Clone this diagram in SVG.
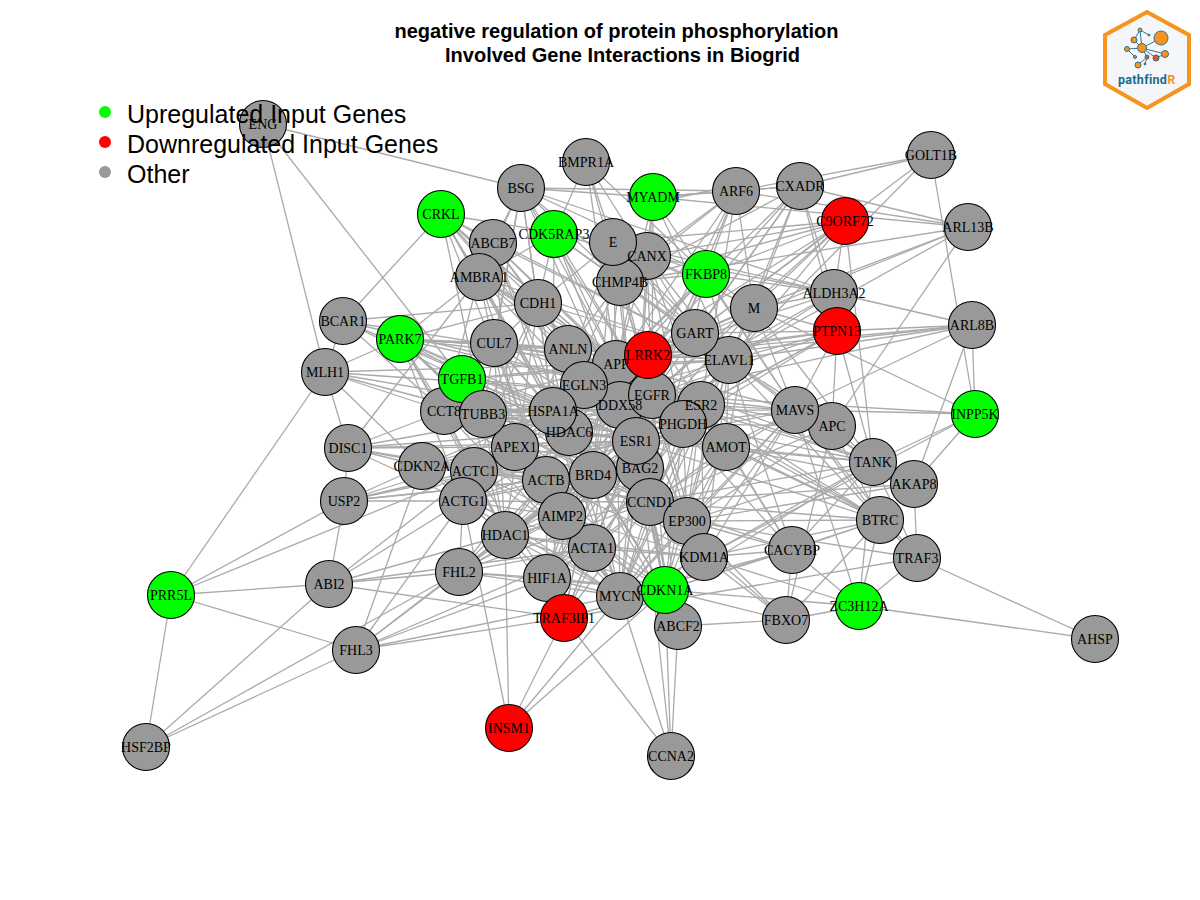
<svg xmlns="http://www.w3.org/2000/svg" width="1200" height="900" viewBox="0 0 1200 900">
<style>
#edges line{stroke:#aaaaaa;stroke-width:1.3;fill:none}
.n{fill:#000}
.n.t{fill:none}
.n circle{r:23.5px;stroke:#000;stroke-width:1.1;fill:#999999}
.n.up circle{fill:#00ff00}
.n.dn circle{fill:#ff0000}
.n text{font-family:"Liberation Serif","Times New Roman",serif;font-size:14px;text-anchor:middle}
.lab{fill:#000}
.title{font-family:"Liberation Sans",Arial,sans-serif;font-size:20.05px;font-weight:700;text-anchor:middle;fill:#000}
.leg{font-family:"Liberation Sans",Arial,sans-serif;font-size:25px;fill:#000}
#logo circle{stroke:#1b6a8c;stroke-width:0.9;fill:#f7941d}
#logo line{stroke:#1b6a8c;stroke-width:0.9}
</style>
<rect width="1200" height="900" fill="#ffffff"/>
<g id="edges">
<line x1="521" y1="188" x2="616" y2="364"/><line x1="521" y1="188" x2="652" y2="395"/><line x1="521" y1="188" x2="636" y2="441"/><line x1="521" y1="188" x2="553" y2="411"/><line x1="521" y1="188" x2="729" y2="360"/><line x1="521" y1="188" x2="653" y2="197"/><line x1="521" y1="188" x2="736" y2="191"/><line x1="521" y1="188" x2="479" y2="277"/><line x1="521" y1="188" x2="493" y2="243"/><line x1="521" y1="188" x2="620" y2="282"/><line x1="521" y1="188" x2="494" y2="343"/><line x1="521" y1="188" x2="538" y2="303"/><line x1="521" y1="188" x2="706" y2="274"/><line x1="521" y1="188" x2="834" y2="293"/><line x1="521" y1="188" x2="483" y2="414"/><line x1="521" y1="188" x2="263" y2="124"/>
<line x1="586" y1="162" x2="554" y2="234"/><line x1="586" y1="162" x2="613" y2="242"/><line x1="586" y1="162" x2="616" y2="364"/><line x1="586" y1="162" x2="652" y2="395"/><line x1="586" y1="162" x2="706" y2="274"/><line x1="586" y1="162" x2="695" y2="333"/>
<line x1="653" y1="197" x2="736" y2="191"/><line x1="653" y1="203" x2="736" y2="185"/><line x1="653" y1="197" x2="800" y2="186"/><line x1="653" y1="197" x2="616" y2="364"/><line x1="653" y1="197" x2="652" y2="395"/><line x1="653" y1="197" x2="636" y2="441"/><line x1="653" y1="197" x2="795" y2="410"/><line x1="653" y1="197" x2="647" y2="256"/><line x1="653" y1="197" x2="729" y2="360"/><line x1="653" y1="197" x2="968" y2="227"/>
<line x1="736" y1="191" x2="800" y2="186"/><line x1="736" y1="191" x2="931" y2="155"/><line x1="736" y1="191" x2="968" y2="227"/><line x1="736" y1="191" x2="754" y2="308"/><line x1="736" y1="191" x2="620" y2="282"/><line x1="736" y1="191" x2="616" y2="364"/><line x1="736" y1="191" x2="652" y2="395"/><line x1="736" y1="191" x2="593" y2="475"/><line x1="736" y1="191" x2="701" y2="405"/><line x1="736" y1="191" x2="647" y2="256"/><line x1="736" y1="191" x2="706" y2="274"/>
<line x1="800" y1="186" x2="931" y2="155"/><line x1="800" y1="186" x2="968" y2="227"/><line x1="800" y1="186" x2="834" y2="293"/><line x1="800" y1="186" x2="837" y2="331"/><line x1="800" y1="186" x2="754" y2="308"/><line x1="800" y1="186" x2="695" y2="333"/><line x1="800" y1="186" x2="648" y2="355"/><line x1="800" y1="186" x2="616" y2="364"/><line x1="800" y1="186" x2="729" y2="360"/><line x1="800" y1="186" x2="620" y2="282"/><line x1="800" y1="186" x2="652" y2="395"/>
<line x1="931" y1="155" x2="975" y2="414"/><line x1="931" y1="155" x2="729" y2="360"/><line x1="931" y1="155" x2="695" y2="333"/>
<line x1="845" y1="221" x2="834" y2="293"/><line x1="845" y1="221" x2="873" y2="462"/><line x1="845" y1="221" x2="754" y2="308"/><line x1="845" y1="221" x2="647" y2="256"/><line x1="845" y1="221" x2="613" y2="242"/><line x1="845" y1="221" x2="706" y2="274"/><line x1="845" y1="221" x2="695" y2="333"/><line x1="845" y1="221" x2="729" y2="360"/><line x1="845" y1="221" x2="616" y2="364"/><line x1="845" y1="221" x2="652" y2="395"/><line x1="845" y1="221" x2="620" y2="282"/>
<line x1="968" y1="227" x2="832" y2="426"/><line x1="968" y1="227" x2="729" y2="360"/><line x1="968" y1="227" x2="620" y2="282"/><line x1="968" y1="227" x2="648" y2="355"/><line x1="968" y1="227" x2="754" y2="308"/>
<line x1="972" y1="325" x2="975" y2="414"/><line x1="972" y1="325" x2="914" y2="484"/><line x1="972" y1="325" x2="837" y2="331"/><line x1="972" y1="325" x2="834" y2="293"/><line x1="972" y1="325" x2="729" y2="360"/><line x1="972" y1="325" x2="795" y2="410"/><line x1="972" y1="325" x2="652" y2="395"/><line x1="972" y1="325" x2="616" y2="364"/><line x1="972" y1="325" x2="648" y2="355"/>
<line x1="834" y1="293" x2="754" y2="308"/><line x1="834" y1="293" x2="729" y2="360"/><line x1="834" y1="293" x2="706" y2="274"/><line x1="834" y1="293" x2="647" y2="256"/><line x1="834" y1="293" x2="613" y2="242"/><line x1="834" y1="293" x2="616" y2="364"/><line x1="834" y1="293" x2="652" y2="395"/>
<line x1="837" y1="331" x2="754" y2="308"/><line x1="837" y1="331" x2="729" y2="360"/><line x1="837" y1="331" x2="648" y2="355"/><line x1="837" y1="331" x2="695" y2="333"/><line x1="837" y1="331" x2="616" y2="364"/><line x1="837" y1="331" x2="652" y2="395"/><line x1="837" y1="331" x2="701" y2="405"/><line x1="837" y1="331" x2="636" y2="441"/><line x1="837" y1="331" x2="795" y2="410"/><line x1="837" y1="331" x2="832" y2="426"/><line x1="837" y1="331" x2="873" y2="462"/><line x1="837" y1="331" x2="683" y2="424"/>
<line x1="754" y1="308" x2="975" y2="414"/><line x1="754" y1="308" x2="613" y2="242"/><line x1="754" y1="308" x2="647" y2="256"/><line x1="754" y1="308" x2="706" y2="274"/><line x1="754" y1="308" x2="695" y2="333"/><line x1="754" y1="308" x2="648" y2="355"/><line x1="754" y1="308" x2="616" y2="364"/><line x1="754" y1="308" x2="652" y2="395"/><line x1="754" y1="308" x2="636" y2="441"/><line x1="754" y1="308" x2="729" y2="360"/><line x1="754" y1="308" x2="726" y2="447"/><line x1="754" y1="308" x2="795" y2="410"/><line x1="754" y1="308" x2="873" y2="462"/>
<line x1="706" y1="274" x2="616" y2="364"/><line x1="706" y1="274" x2="652" y2="395"/><line x1="706" y1="274" x2="636" y2="441"/><line x1="706" y1="274" x2="569" y2="432"/><line x1="706" y1="274" x2="593" y2="475"/><line x1="706" y1="274" x2="795" y2="410"/><line x1="706" y1="274" x2="729" y2="360"/><line x1="706" y1="274" x2="620" y2="282"/><line x1="706" y1="274" x2="650" y2="502"/><line x1="706" y1="274" x2="613" y2="242"/>
<line x1="613" y1="242" x2="616" y2="364"/><line x1="613" y1="242" x2="652" y2="395"/><line x1="613" y1="242" x2="636" y2="441"/><line x1="613" y1="242" x2="553" y2="411"/><line x1="613" y1="242" x2="695" y2="333"/><line x1="613" y1="242" x2="729" y2="360"/><line x1="613" y1="242" x2="538" y2="303"/><line x1="613" y1="242" x2="593" y2="475"/><line x1="613" y1="242" x2="441" y2="214"/>
<line x1="647" y1="256" x2="616" y2="364"/><line x1="647" y1="256" x2="652" y2="395"/><line x1="647" y1="256" x2="636" y2="441"/><line x1="647" y1="256" x2="729" y2="360"/><line x1="647" y1="256" x2="683" y2="424"/><line x1="647" y1="256" x2="701" y2="405"/><line x1="647" y1="256" x2="554" y2="234"/>
<line x1="620" y1="282" x2="652" y2="395"/><line x1="620" y1="282" x2="636" y2="441"/><line x1="620" y1="282" x2="553" y2="411"/><line x1="620" y1="282" x2="568" y2="349"/><line x1="620" y1="282" x2="593" y2="475"/><line x1="620" y1="282" x2="729" y2="360"/><line x1="620" y1="282" x2="701" y2="405"/>
<line x1="554" y1="234" x2="616" y2="364"/><line x1="554" y1="234" x2="652" y2="395"/><line x1="554" y1="234" x2="636" y2="441"/><line x1="554" y1="234" x2="553" y2="411"/><line x1="554" y1="234" x2="479" y2="277"/><line x1="554" y1="234" x2="695" y2="333"/><line x1="554" y1="234" x2="729" y2="360"/><line x1="554" y1="234" x2="538" y2="303"/>
<line x1="441" y1="214" x2="343" y2="321"/><line x1="441" y1="214" x2="493" y2="243"/><line x1="441" y1="214" x2="479" y2="277"/><line x1="441" y1="214" x2="538" y2="303"/><line x1="441" y1="214" x2="616" y2="364"/><line x1="441" y1="214" x2="568" y2="349"/><line x1="441" y1="214" x2="652" y2="395"/><line x1="441" y1="214" x2="553" y2="411"/><line x1="441" y1="214" x2="636" y2="441"/><line x1="441" y1="214" x2="569" y2="432"/><line x1="441" y1="214" x2="546" y2="480"/><line x1="441" y1="214" x2="483" y2="414"/><line x1="441" y1="214" x2="729" y2="360"/>
<line x1="493" y1="243" x2="616" y2="364"/><line x1="493" y1="243" x2="652" y2="395"/><line x1="493" y1="243" x2="636" y2="441"/><line x1="493" y1="243" x2="553" y2="411"/><line x1="493" y1="243" x2="569" y2="432"/><line x1="493" y1="243" x2="729" y2="360"/><line x1="493" y1="243" x2="515" y2="447"/><line x1="493" y1="243" x2="538" y2="303"/>
<line x1="479" y1="277" x2="400" y2="339"/><line x1="479" y1="277" x2="616" y2="364"/><line x1="479" y1="277" x2="652" y2="395"/><line x1="479" y1="277" x2="636" y2="441"/><line x1="479" y1="277" x2="553" y2="411"/><line x1="479" y1="277" x2="569" y2="432"/><line x1="479" y1="277" x2="546" y2="480"/><line x1="479" y1="277" x2="729" y2="360"/><line x1="479" y1="277" x2="348" y2="448"/><line x1="479" y1="277" x2="444" y2="411"/><line x1="479" y1="277" x2="515" y2="447"/><line x1="479" y1="277" x2="568" y2="349"/><line x1="479" y1="277" x2="701" y2="405"/>
<line x1="538" y1="303" x2="616" y2="364"/><line x1="538" y1="303" x2="652" y2="395"/><line x1="538" y1="303" x2="636" y2="441"/><line x1="538" y1="303" x2="553" y2="411"/><line x1="538" y1="303" x2="569" y2="432"/><line x1="538" y1="303" x2="462" y2="379"/><line x1="538" y1="303" x2="483" y2="414"/><line x1="538" y1="303" x2="729" y2="360"/><line x1="538" y1="303" x2="400" y2="339"/><line x1="538" y1="303" x2="463" y2="501"/><line x1="538" y1="303" x2="505" y2="535"/><line x1="538" y1="303" x2="343" y2="321"/>
<line x1="343" y1="321" x2="325" y2="372"/><line x1="343" y1="321" x2="616" y2="364"/><line x1="343" y1="321" x2="652" y2="395"/><line x1="343" y1="321" x2="553" y2="411"/><line x1="343" y1="321" x2="462" y2="379"/><line x1="343" y1="321" x2="444" y2="411"/><line x1="343" y1="321" x2="636" y2="441"/>
<line x1="400" y1="339" x2="325" y2="372"/><line x1="400" y1="339" x2="616" y2="364"/><line x1="400" y1="339" x2="648" y2="355"/><line x1="400" y1="339" x2="652" y2="395"/><line x1="400" y1="339" x2="553" y2="411"/><line x1="400" y1="339" x2="569" y2="432"/><line x1="400" y1="339" x2="636" y2="441"/><line x1="400" y1="339" x2="546" y2="480"/><line x1="400" y1="339" x2="463" y2="501"/><line x1="400" y1="339" x2="729" y2="360"/><line x1="400" y1="339" x2="494" y2="343"/><line x1="400" y1="339" x2="568" y2="349"/><line x1="400" y1="339" x2="505" y2="535"/><line x1="400" y1="339" x2="483" y2="414"/><line x1="400" y1="339" x2="444" y2="411"/><line x1="400" y1="339" x2="515" y2="447"/><line x1="400" y1="339" x2="474" y2="471"/>
<line x1="494" y1="343" x2="616" y2="364"/><line x1="494" y1="343" x2="652" y2="395"/><line x1="494" y1="343" x2="553" y2="411"/><line x1="494" y1="343" x2="636" y2="441"/><line x1="494" y1="343" x2="569" y2="432"/><line x1="494" y1="343" x2="546" y2="480"/><line x1="494" y1="343" x2="729" y2="360"/><line x1="494" y1="343" x2="462" y2="379"/><line x1="494" y1="343" x2="505" y2="535"/>
<line x1="568" y1="349" x2="652" y2="395"/><line x1="568" y1="349" x2="701" y2="405"/><line x1="568" y1="349" x2="636" y2="441"/><line x1="568" y1="349" x2="546" y2="480"/><line x1="568" y1="349" x2="593" y2="475"/><line x1="568" y1="349" x2="515" y2="447"/><line x1="568" y1="349" x2="650" y2="502"/>
<line x1="462" y1="379" x2="616" y2="364"/><line x1="462" y1="379" x2="553" y2="411"/><line x1="462" y1="379" x2="652" y2="395"/><line x1="462" y1="379" x2="636" y2="441"/><line x1="462" y1="379" x2="569" y2="432"/><line x1="462" y1="379" x2="593" y2="475"/><line x1="462" y1="379" x2="546" y2="480"/><line x1="462" y1="379" x2="729" y2="360"/><line x1="462" y1="379" x2="620" y2="596"/><line x1="462" y1="379" x2="687" y2="521"/><line x1="462" y1="379" x2="505" y2="535"/><line x1="462" y1="379" x2="263" y2="124"/>
<line x1="325" y1="372" x2="348" y2="448"/><line x1="325" y1="372" x2="263" y2="124"/><line x1="325" y1="372" x2="171" y2="595"/><line x1="325" y1="372" x2="422" y2="466"/><line x1="325" y1="372" x2="444" y2="411"/><line x1="325" y1="372" x2="483" y2="414"/><line x1="325" y1="372" x2="553" y2="411"/><line x1="325" y1="372" x2="616" y2="364"/><line x1="325" y1="372" x2="652" y2="395"/>
<line x1="483" y1="414" x2="553" y2="411"/><line x1="483" y1="414" x2="620" y2="405"/><line x1="483" y1="414" x2="636" y2="441"/><line x1="483" y1="414" x2="652" y2="395"/><line x1="483" y1="414" x2="546" y2="480"/><line x1="483" y1="414" x2="593" y2="475"/><line x1="483" y1="414" x2="505" y2="535"/><line x1="483" y1="414" x2="650" y2="502"/><line x1="483" y1="414" x2="683" y2="424"/><line x1="483" y1="414" x2="620" y2="596"/><line x1="483" y1="414" x2="687" y2="521"/><line x1="483" y1="414" x2="726" y2="447"/>
<line x1="444" y1="411" x2="553" y2="411"/><line x1="444" y1="411" x2="616" y2="364"/><line x1="444" y1="411" x2="652" y2="395"/><line x1="444" y1="411" x2="569" y2="432"/><line x1="444" y1="411" x2="636" y2="441"/><line x1="444" y1="411" x2="546" y2="480"/><line x1="444" y1="411" x2="505" y2="535"/><line x1="444" y1="411" x2="701" y2="405"/><line x1="444" y1="411" x2="650" y2="502"/><line x1="444" y1="411" x2="620" y2="596"/>
<line x1="348" y1="448" x2="344" y2="501"/><line x1="348" y1="448" x2="422" y2="466"/><line x1="348" y1="448" x2="474" y2="471"/><line x1="348" y1="448" x2="463" y2="501"/><line x1="348" y1="448" x2="515" y2="447"/><line x1="348" y1="448" x2="546" y2="480"/><line x1="348" y1="448" x2="444" y2="411"/><line x1="348" y1="448" x2="553" y2="411"/><line x1="348" y1="448" x2="636" y2="441"/><line x1="348" y1="448" x2="569" y2="432"/>
<line x1="344" y1="501" x2="329" y2="584"/><line x1="344" y1="501" x2="422" y2="466"/><line x1="344" y1="501" x2="463" y2="501"/><line x1="344" y1="501" x2="474" y2="471"/><line x1="344" y1="501" x2="593" y2="475"/><line x1="344" y1="501" x2="171" y2="595"/><line x1="344" y1="501" x2="515" y2="447"/><line x1="344" y1="501" x2="546" y2="480"/><line x1="344" y1="501" x2="636" y2="441"/>
<line x1="422" y1="466" x2="356" y2="650"/><line x1="422" y1="466" x2="546" y2="480"/><line x1="422" y1="466" x2="515" y2="447"/><line x1="422" y1="466" x2="553" y2="411"/><line x1="422" y1="466" x2="593" y2="475"/><line x1="422" y1="466" x2="652" y2="395"/><line x1="422" y1="466" x2="636" y2="441"/><line x1="422" y1="466" x2="505" y2="535"/><line x1="422" y1="466" x2="620" y2="596"/>
<line x1="474" y1="471" x2="171" y2="595"/><line x1="474" y1="471" x2="546" y2="480"/><line x1="474" y1="471" x2="562" y2="516"/><line x1="474" y1="471" x2="636" y2="441"/><line x1="474" y1="471" x2="593" y2="475"/><line x1="474" y1="471" x2="650" y2="502"/><line x1="474" y1="471" x2="592" y2="548"/><line x1="474" y1="471" x2="553" y2="411"/><line x1="474" y1="471" x2="505" y2="535"/><line x1="474" y1="471" x2="547" y2="578"/>
<line x1="463" y1="501" x2="546" y2="480"/><line x1="463" y1="501" x2="562" y2="516"/><line x1="463" y1="501" x2="592" y2="548"/><line x1="463" y1="501" x2="636" y2="441"/><line x1="463" y1="501" x2="505" y2="535"/><line x1="463" y1="501" x2="650" y2="502"/><line x1="463" y1="501" x2="620" y2="596"/><line x1="463" y1="501" x2="329" y2="584"/><line x1="463" y1="501" x2="356" y2="650"/><line x1="463" y1="501" x2="553" y2="411"/><line x1="463" y1="501" x2="593" y2="475"/><line x1="463" y1="501" x2="616" y2="364"/><line x1="463" y1="501" x2="652" y2="395"/><line x1="463" y1="501" x2="459" y2="572"/>
<line x1="515" y1="447" x2="636" y2="441"/><line x1="515" y1="447" x2="593" y2="475"/><line x1="515" y1="447" x2="650" y2="502"/><line x1="515" y1="447" x2="620" y2="596"/><line x1="515" y1="447" x2="592" y2="548"/><line x1="515" y1="447" x2="729" y2="360"/><line x1="515" y1="447" x2="683" y2="424"/><line x1="515" y1="447" x2="640" y2="468"/>
<line x1="553" y1="411" x2="652" y2="395"/><line x1="553" y1="411" x2="636" y2="441"/><line x1="553" y1="411" x2="683" y2="424"/><line x1="553" y1="411" x2="726" y2="447"/><line x1="553" y1="411" x2="701" y2="405"/><line x1="553" y1="411" x2="687" y2="521"/><line x1="553" y1="411" x2="704" y2="557"/><line x1="553" y1="411" x2="620" y2="596"/><line x1="553" y1="411" x2="665" y2="590"/><line x1="553" y1="411" x2="795" y2="410"/><line x1="553" y1="411" x2="592" y2="548"/><line x1="553" y1="411" x2="729" y2="360"/>
<line x1="569" y1="432" x2="636" y2="441"/><line x1="569" y1="432" x2="652" y2="395"/><line x1="569" y1="432" x2="701" y2="405"/><line x1="569" y1="432" x2="687" y2="521"/><line x1="569" y1="432" x2="665" y2="590"/><line x1="569" y1="432" x2="620" y2="596"/><line x1="569" y1="432" x2="726" y2="447"/>
<line x1="616" y1="364" x2="726" y2="447"/><line x1="616" y1="364" x2="795" y2="410"/><line x1="616" y1="364" x2="873" y2="462"/><line x1="616" y1="364" x2="880" y2="520"/><line x1="616" y1="364" x2="683" y2="424"/><line x1="616" y1="364" x2="687" y2="521"/><line x1="616" y1="364" x2="704" y2="557"/><line x1="616" y1="364" x2="620" y2="596"/><line x1="616" y1="364" x2="665" y2="590"/><line x1="616" y1="364" x2="678" y2="626"/><line x1="616" y1="364" x2="592" y2="548"/><line x1="616" y1="364" x2="562" y2="516"/><line x1="616" y1="364" x2="505" y2="535"/><line x1="616" y1="364" x2="547" y2="578"/><line x1="616" y1="364" x2="564" y2="618"/><line x1="616" y1="364" x2="459" y2="572"/><line x1="616" y1="364" x2="729" y2="360"/>
<line x1="652" y1="395" x2="795" y2="410"/><line x1="652" y1="395" x2="832" y2="426"/><line x1="652" y1="395" x2="873" y2="462"/><line x1="652" y1="395" x2="880" y2="520"/><line x1="652" y1="395" x2="726" y2="447"/><line x1="652" y1="395" x2="792" y2="550"/><line x1="652" y1="395" x2="687" y2="521"/><line x1="652" y1="395" x2="704" y2="557"/><line x1="652" y1="395" x2="665" y2="590"/><line x1="652" y1="395" x2="620" y2="596"/><line x1="652" y1="395" x2="678" y2="626"/><line x1="652" y1="395" x2="562" y2="516"/><line x1="652" y1="395" x2="505" y2="535"/><line x1="652" y1="395" x2="592" y2="548"/><line x1="652" y1="395" x2="547" y2="578"/><line x1="652" y1="395" x2="975" y2="414"/>
<line x1="636" y1="441" x2="795" y2="410"/><line x1="636" y1="441" x2="873" y2="462"/><line x1="636" y1="441" x2="880" y2="520"/><line x1="636" y1="441" x2="687" y2="521"/><line x1="636" y1="441" x2="704" y2="557"/><line x1="636" y1="441" x2="665" y2="590"/><line x1="636" y1="441" x2="620" y2="596"/><line x1="636" y1="441" x2="592" y2="548"/><line x1="636" y1="441" x2="547" y2="578"/><line x1="636" y1="441" x2="562" y2="516"/><line x1="636" y1="441" x2="505" y2="535"/><line x1="636" y1="441" x2="564" y2="618"/><line x1="636" y1="441" x2="678" y2="626"/><line x1="636" y1="441" x2="459" y2="572"/>
<line x1="701" y1="405" x2="795" y2="410"/><line x1="701" y1="405" x2="873" y2="462"/><line x1="701" y1="405" x2="880" y2="520"/><line x1="701" y1="405" x2="726" y2="447"/><line x1="701" y1="405" x2="687" y2="521"/><line x1="701" y1="405" x2="704" y2="557"/><line x1="701" y1="405" x2="665" y2="590"/><line x1="701" y1="405" x2="620" y2="596"/><line x1="701" y1="405" x2="592" y2="548"/><line x1="701" y1="405" x2="505" y2="535"/><line x1="701" y1="405" x2="562" y2="516"/><line x1="701" y1="405" x2="792" y2="550"/><line x1="701" y1="405" x2="650" y2="502"/>
<line x1="729" y1="360" x2="795" y2="410"/><line x1="729" y1="360" x2="832" y2="426"/><line x1="729" y1="360" x2="873" y2="462"/><line x1="729" y1="360" x2="880" y2="520"/><line x1="729" y1="360" x2="726" y2="447"/><line x1="729" y1="360" x2="687" y2="521"/><line x1="729" y1="360" x2="704" y2="557"/><line x1="729" y1="360" x2="792" y2="550"/><line x1="729" y1="360" x2="665" y2="590"/><line x1="729" y1="360" x2="620" y2="596"/><line x1="729" y1="360" x2="592" y2="548"/><line x1="729" y1="360" x2="505" y2="535"/><line x1="729" y1="360" x2="650" y2="502"/><line x1="729" y1="360" x2="640" y2="468"/><line x1="729" y1="360" x2="683" y2="424"/>
<line x1="683" y1="424" x2="795" y2="410"/><line x1="683" y1="424" x2="832" y2="426"/><line x1="683" y1="424" x2="873" y2="462"/><line x1="683" y1="424" x2="880" y2="520"/><line x1="683" y1="424" x2="687" y2="521"/><line x1="683" y1="424" x2="665" y2="590"/><line x1="683" y1="424" x2="620" y2="596"/><line x1="683" y1="424" x2="505" y2="535"/>
<line x1="726" y1="447" x2="795" y2="410"/><line x1="726" y1="447" x2="873" y2="462"/><line x1="726" y1="447" x2="880" y2="520"/><line x1="726" y1="447" x2="687" y2="521"/><line x1="726" y1="447" x2="665" y2="590"/><line x1="726" y1="447" x2="620" y2="596"/><line x1="726" y1="447" x2="592" y2="548"/><line x1="726" y1="447" x2="914" y2="484"/><line x1="726" y1="447" x2="792" y2="550"/>
<line x1="795" y1="410" x2="975" y2="414"/><line x1="795" y1="410" x2="873" y2="462"/><line x1="795" y1="410" x2="880" y2="520"/><line x1="795" y1="410" x2="859" y2="606"/><line x1="795" y1="410" x2="687" y2="521"/><line x1="795" y1="410" x2="704" y2="557"/><line x1="795" y1="410" x2="665" y2="590"/><line x1="795" y1="410" x2="620" y2="596"/><line x1="795" y1="410" x2="650" y2="502"/><line x1="795" y1="410" x2="917" y2="558"/>
<line x1="832" y1="426" x2="873" y2="462"/><line x1="832" y1="426" x2="880" y2="520"/><line x1="832" y1="426" x2="786" y2="620"/><line x1="832" y1="426" x2="650" y2="502"/><line x1="832" y1="426" x2="687" y2="521"/>
<line x1="873" y1="462" x2="975" y2="414"/><line x1="975" y1="414" x2="704" y2="557"/><line x1="873" y1="462" x2="859" y2="606"/><line x1="873" y1="462" x2="917" y2="558"/><line x1="873" y1="462" x2="687" y2="521"/><line x1="873" y1="462" x2="650" y2="502"/><line x1="873" y1="462" x2="704" y2="557"/><line x1="873" y1="462" x2="792" y2="550"/><line x1="873" y1="462" x2="665" y2="590"/>
<line x1="914" y1="484" x2="975" y2="414"/><line x1="914" y1="484" x2="650" y2="502"/><line x1="914" y1="484" x2="687" y2="521"/><line x1="914" y1="484" x2="917" y2="558"/>
<line x1="880" y1="520" x2="859" y2="606"/><line x1="880" y1="520" x2="786" y2="620"/><line x1="880" y1="520" x2="917" y2="558"/><line x1="880" y1="520" x2="650" y2="502"/><line x1="880" y1="520" x2="687" y2="521"/><line x1="880" y1="520" x2="704" y2="557"/><line x1="880" y1="520" x2="665" y2="590"/><line x1="880" y1="520" x2="792" y2="550"/>
<line x1="917" y1="558" x2="859" y2="606"/><line x1="917" y1="558" x2="1095" y2="639"/><line x1="917" y1="558" x2="564" y2="618"/><line x1="917" y1="558" x2="687" y2="521"/>
<line x1="859" y1="606" x2="1095" y2="639"/><line x1="859" y1="606" x2="792" y2="550"/><line x1="859" y1="606" x2="704" y2="557"/><line x1="859" y1="606" x2="786" y2="620"/><line x1="859" y1="606" x2="665" y2="590"/>
<line x1="792" y1="550" x2="786" y2="620"/><line x1="792" y1="550" x2="650" y2="502"/><line x1="792" y1="550" x2="687" y2="521"/><line x1="792" y1="550" x2="704" y2="557"/><line x1="792" y1="550" x2="620" y2="596"/><line x1="792" y1="550" x2="665" y2="590"/>
<line x1="786" y1="620" x2="678" y2="626"/><line x1="786" y1="620" x2="704" y2="557"/><line x1="786" y1="620" x2="665" y2="590"/><line x1="786" y1="620" x2="687" y2="521"/><line x1="786" y1="620" x2="650" y2="502"/>
<line x1="704" y1="557" x2="620" y2="596"/><line x1="704" y1="557" x2="593" y2="475"/><line x1="704" y1="557" x2="546" y2="480"/><line x1="704" y1="557" x2="562" y2="516"/><line x1="704" y1="557" x2="592" y2="548"/><line x1="704" y1="557" x2="505" y2="535"/><line x1="704" y1="557" x2="650" y2="502"/>
<line x1="665" y1="590" x2="509" y2="728"/><line x1="665" y1="590" x2="564" y2="618"/><line x1="665" y1="590" x2="459" y2="572"/><line x1="665" y1="590" x2="547" y2="578"/><line x1="665" y1="590" x2="592" y2="548"/><line x1="665" y1="590" x2="562" y2="516"/><line x1="665" y1="590" x2="505" y2="535"/><line x1="665" y1="590" x2="546" y2="480"/><line x1="665" y1="590" x2="593" y2="475"/><line x1="665" y1="590" x2="640" y2="468"/><line x1="665" y1="590" x2="650" y2="502"/><line x1="665" y1="590" x2="671" y2="756"/>
<line x1="620" y1="596" x2="509" y2="728"/><line x1="620" y1="596" x2="671" y2="756"/><line x1="620" y1="596" x2="459" y2="572"/><line x1="620" y1="596" x2="547" y2="578"/><line x1="620" y1="596" x2="592" y2="548"/><line x1="620" y1="596" x2="562" y2="516"/><line x1="620" y1="596" x2="505" y2="535"/><line x1="620" y1="596" x2="546" y2="480"/><line x1="620" y1="596" x2="593" y2="475"/><line x1="620" y1="596" x2="640" y2="468"/><line x1="620" y1="596" x2="650" y2="502"/><line x1="620" y1="596" x2="687" y2="521"/><line x1="620" y1="596" x2="356" y2="650"/>
<line x1="678" y1="626" x2="671" y2="756"/><line x1="678" y1="626" x2="650" y2="502"/><line x1="678" y1="626" x2="546" y2="480"/><line x1="678" y1="626" x2="593" y2="475"/>
<line x1="671" y1="756" x2="564" y2="618"/><line x1="671" y1="756" x2="640" y2="468"/>
<line x1="509" y1="728" x2="505" y2="535"/><line x1="509" y1="728" x2="463" y2="501"/><line x1="509" y1="728" x2="564" y2="618"/>
<line x1="564" y1="618" x2="329" y2="584"/><line x1="564" y1="618" x2="356" y2="650"/><line x1="564" y1="618" x2="593" y2="475"/><line x1="564" y1="618" x2="650" y2="502"/><line x1="564" y1="618" x2="546" y2="480"/><line x1="564" y1="618" x2="640" y2="468"/><line x1="564" y1="618" x2="505" y2="535"/><line x1="564" y1="618" x2="562" y2="516"/><line x1="564" y1="618" x2="592" y2="548"/>
<line x1="547" y1="578" x2="356" y2="650"/><line x1="547" y1="578" x2="459" y2="572"/><line x1="547" y1="578" x2="505" y2="535"/><line x1="547" y1="578" x2="546" y2="480"/><line x1="547" y1="578" x2="593" y2="475"/><line x1="547" y1="578" x2="650" y2="502"/><line x1="547" y1="578" x2="640" y2="468"/><line x1="547" y1="578" x2="592" y2="548"/><line x1="547" y1="578" x2="562" y2="516"/>
<line x1="459" y1="572" x2="329" y2="584"/><line x1="459" y1="572" x2="356" y2="650"/><line x1="459" y1="572" x2="146" y2="747"/><line x1="459" y1="572" x2="505" y2="535"/><line x1="459" y1="572" x2="546" y2="480"/><line x1="459" y1="572" x2="593" y2="475"/><line x1="459" y1="572" x2="562" y2="516"/><line x1="459" y1="572" x2="650" y2="502"/><line x1="459" y1="572" x2="592" y2="548"/><line x1="459" y1="572" x2="640" y2="468"/>
<line x1="356" y1="650" x2="171" y2="595"/><line x1="356" y1="650" x2="146" y2="747"/><line x1="356" y1="650" x2="505" y2="535"/><line x1="356" y1="650" x2="592" y2="548"/>
<line x1="329" y1="584" x2="171" y2="595"/><line x1="329" y1="584" x2="146" y2="747"/><line x1="329" y1="584" x2="474" y2="471"/><line x1="329" y1="584" x2="505" y2="535"/><line x1="329" y1="584" x2="592" y2="548"/>
<line x1="171" y1="595" x2="146" y2="747"/>
<line x1="505" y1="535" x2="546" y2="480"/><line x1="505" y1="535" x2="562" y2="516"/><line x1="505" y1="535" x2="592" y2="548"/><line x1="505" y1="535" x2="593" y2="475"/><line x1="505" y1="535" x2="640" y2="468"/><line x1="505" y1="535" x2="650" y2="502"/>
<line x1="546" y1="480" x2="593" y2="475"/><line x1="546" y1="480" x2="650" y2="502"/><line x1="546" y1="480" x2="640" y2="468"/><line x1="546" y1="480" x2="592" y2="548"/><line x1="546" y1="480" x2="562" y2="516"/>
</g>
<g id="nodes">
<g class="n" id="n-ABCB7"><circle cx="493" cy="243"/><text x="493" y="247.5">ABCB7</text></g>
<g class="n" id="n-ABCF2"><circle cx="678" cy="626"/><text x="678" y="630.5">ABCF2</text></g>
<g class="n" id="n-ABI2"><circle cx="329" cy="584"/><text x="329" y="588.5">ABI2</text></g>
<g class="n" id="n-ACTA1"><circle cx="592" cy="548"/><text x="592" y="552.5">ACTA1</text></g>
<g class="n" id="n-ACTB"><circle cx="546" cy="480"/><text x="546" y="484.5">ACTB</text></g>
<g class="n" id="n-ACTC1"><circle cx="474" cy="471"/><text x="474" y="475.5">ACTC1</text></g>
<g class="n" id="n-ACTG1"><circle cx="463" cy="501"/><text x="463" y="505.5">ACTG1</text></g>
<g class="n" id="n-AHSP"><circle cx="1095" cy="639"/><text x="1095" y="643.5">AHSP</text></g>
<g class="n" id="n-AIMP2"><circle cx="562" cy="516"/><text x="562" y="520.5">AIMP2</text></g>
<g class="n t" id="n-AKAP8"><circle cx="914" cy="484"/><text id="t-AKAP8" x="914" y="488.5">AKAP8</text></g>
<g class="n" id="n-ALDH3A2"><circle cx="834" cy="293"/><text x="834" y="297.5">ALDH3A2</text></g>
<g class="n" id="n-AMBRA1"><circle cx="479" cy="277"/><text x="479" y="281.5">AMBRA1</text></g>
<g class="n" id="n-AMOT"><circle cx="726" cy="447"/><text x="726" y="451.5">AMOT</text></g>
<g class="n" id="n-ANLN"><circle cx="568" cy="349"/><text x="568" y="353.5">ANLN</text></g>
<g class="n" id="n-APC"><circle cx="832" cy="426"/><text x="832" y="430.5">APC</text></g>
<g class="n" id="n-APEX1"><circle cx="515" cy="447"/><text x="515" y="451.5">APEX1</text></g>
<g class="n t" id="n-APP"><circle cx="616" cy="364"/><text id="t-APP" x="616" y="368.5">APP</text></g>
<g class="n" id="n-ARF6"><circle cx="736" cy="191"/><text x="736" y="195.5">ARF6</text></g>
<g class="n" id="n-ARL13B"><circle cx="968" cy="227"/><text x="968" y="231.5">ARL13B</text></g>
<g class="n" id="n-ARL8B"><circle cx="972" cy="325"/><text x="972" y="329.5">ARL8B</text></g>
<g class="n" id="n-BAG2"><circle cx="640" cy="468"/><text x="640" y="472.5">BAG2</text></g>
<g class="n" id="n-BCAR1"><circle cx="343" cy="321"/><text x="343" y="325.5">BCAR1</text></g>
<g class="n" id="n-BMPR1A"><circle cx="586" cy="162"/><text x="586" y="166.5">BMPR1A</text></g>
<g class="n" id="n-BRD4"><circle cx="593" cy="475"/><text x="593" y="479.5">BRD4</text></g>
<g class="n" id="n-BSG"><circle cx="521" cy="188"/><text x="521" y="192.5">BSG</text></g>
<g class="n" id="n-BTRC"><circle cx="880" cy="520"/><text x="880" y="524.5">BTRC</text></g>
<g class="n dn" id="n-C9ORF72"><circle cx="845" cy="221"/><text x="845" y="225.5">C9ORF72</text></g>
<g class="n" id="n-CACYBP"><circle cx="792" cy="550"/><text x="792" y="554.5">CACYBP</text></g>
<g class="n t" id="n-CANX"><circle cx="647" cy="256"/><text id="t-CANX" x="647" y="260.5">CANX</text></g>
<g class="n" id="n-CCNA2"><circle cx="671" cy="756"/><text x="671" y="760.5">CCNA2</text></g>
<g class="n t" id="n-CCND1"><circle cx="650" cy="502"/><text id="t-CCND1" x="650" y="506.5">CCND1</text></g>
<g class="n t" id="n-CCT8"><circle cx="444" cy="411"/><text id="t-CCT8" x="444" y="415.5">CCT8</text></g>
<g class="n" id="n-CDH1"><circle cx="538" cy="303"/><text x="538" y="307.5">CDH1</text></g>
<g class="n up t" id="n-CDK5RAP3"><circle cx="554" cy="234"/><text id="t-CDK5RAP3" x="554" y="238.5">CDK5RAP3</text></g>
<g class="n t" id="n-CDKN2A"><circle cx="422" cy="466"/><text id="t-CDKN2A" x="422" y="470.5">CDKN2A</text></g>
<g class="n" id="n-CHMP4B"><circle cx="620" cy="282"/><text x="620" y="286.5">CHMP4B</text></g>
<g class="n up" id="n-CRKL"><circle cx="441" cy="214"/><text x="441" y="218.5">CRKL</text></g>
<g class="n" id="n-CUL7"><circle cx="494" cy="343"/><text x="494" y="347.5">CUL7</text></g>
<g class="n" id="n-CXADR"><circle cx="800" cy="186"/><text x="800" y="190.5">CXADR</text></g>
<g class="n t" id="n-DDX58"><circle cx="620" cy="405"/><text id="t-DDX58" x="620" y="409.5">DDX58</text></g>
<g class="n" id="n-DISC1"><circle cx="348" cy="448"/><text x="348" y="452.5">DISC1</text></g>
<g class="n" id="n-E"><circle cx="613" cy="242"/><text x="613" y="246.5">E</text></g>
<g class="n" id="n-EGFR"><circle cx="652" cy="395"/><text x="652" y="399.5">EGFR</text></g>
<g class="n" id="n-EGLN3"><circle cx="584" cy="385"/><text x="584" y="389.5">EGLN3</text></g>
<g class="n" id="n-ELAVL1"><circle cx="729" cy="360"/><text x="729" y="364.5">ELAVL1</text></g>
<g class="n" id="n-ENG"><circle cx="263" cy="124"/><text x="263" y="128.5">ENG</text></g>
<g class="n" id="n-EP300"><circle cx="687" cy="521"/><text x="687" y="525.5">EP300</text></g>
<g class="n" id="n-ESR1"><circle cx="636" cy="441"/><text x="636" y="445.5">ESR1</text></g>
<g class="n t" id="n-ESR2"><circle cx="701" cy="405"/><text id="t-ESR2" x="701" y="409.5">ESR2</text></g>
<g class="n" id="n-FBXO7"><circle cx="786" cy="620"/><text x="786" y="624.5">FBXO7</text></g>
<g class="n" id="n-FHL2"><circle cx="459" cy="572"/><text x="459" y="576.5">FHL2</text></g>
<g class="n" id="n-FHL3"><circle cx="356" cy="650"/><text x="356" y="654.5">FHL3</text></g>
<g class="n up" id="n-FKBP8"><circle cx="706" cy="274"/><text x="706" y="278.5">FKBP8</text></g>
<g class="n" id="n-GART"><circle cx="695" cy="333"/><text x="695" y="337.5">GART</text></g>
<g class="n" id="n-GOLT1B"><circle cx="931" cy="155"/><text x="931" y="159.5">GOLT1B</text></g>
<g class="n" id="n-HDAC1"><circle cx="505" cy="535"/><text x="505" y="539.5">HDAC1</text></g>
<g class="n t" id="n-HDAC6"><circle cx="569" cy="432"/><text id="t-HDAC6" x="569" y="436.5">HDAC6</text></g>
<g class="n" id="n-HIF1A"><circle cx="547" cy="578"/><text x="547" y="582.5">HIF1A</text></g>
<g class="n" id="n-HSF2BP"><circle cx="146" cy="747"/><text x="146" y="751.5">HSF2BP</text></g>
<g class="n" id="n-HSPA1A"><circle cx="553" cy="411"/><text x="553" y="415.5">HSPA1A</text></g>
<g class="n up" id="n-INPP5K"><circle cx="975" cy="414"/><text x="975" y="418.5">INPP5K</text></g>
<g class="n dn" id="n-INSM1"><circle cx="509" cy="728"/><text x="509" y="732.5">INSM1</text></g>
<g class="n" id="n-KDM1A"><circle cx="704" cy="557"/><text x="704" y="561.5">KDM1A</text></g>
<g class="n dn" id="n-LRRK2"><circle cx="648" cy="355"/><text x="648" y="359.5">LRRK2</text></g>
<g class="n" id="n-M"><circle cx="754" cy="308"/><text x="754" y="312.5">M</text></g>
<g class="n" id="n-MAVS"><circle cx="795" cy="410"/><text x="795" y="414.5">MAVS</text></g>
<g class="n" id="n-MLH1"><circle cx="325" cy="372"/><text x="325" y="376.5">MLH1</text></g>
<g class="n up" id="n-MYADM"><circle cx="653" cy="197"/><text x="653" y="201.5">MYADM</text></g>
<g class="n" id="n-MYCN"><circle cx="620" cy="596"/><text x="620" y="600.5">MYCN</text></g>
<g class="n up" id="n-CDKN1A"><circle cx="665" cy="590"/><text x="665" y="594.5">CDKN1A</text></g>
<g class="n up" id="n-PARK7"><circle cx="400" cy="339"/><text x="400" y="343.5">PARK7</text></g>
<g class="n" id="n-PHGDH"><circle cx="683" cy="424"/><text x="683" y="428.5">PHGDH</text></g>
<g class="n up" id="n-PRR5L"><circle cx="171" cy="595"/><text x="171" y="599.5">PRR5L</text></g>
<g class="n dn" id="n-PTPN13"><circle cx="837" cy="331"/><text x="837" y="335.5">PTPN13</text></g>
<g class="n" id="n-TANK"><circle cx="873" cy="462"/><text x="873" y="466.5">TANK</text></g>
<g class="n up" id="n-TGFB1"><circle cx="462" cy="379"/><text x="462" y="383.5">TGFB1</text></g>
<g class="n" id="n-TRAF3"><circle cx="917" cy="558"/><text x="917" y="562.5">TRAF3</text></g>
<g class="n dn" id="n-TRAF3IP1"><circle cx="564" cy="618"/><text x="564" y="622.5">TRAF3IP1</text></g>
<g class="n" id="n-TUBB3"><circle cx="483" cy="414"/><text x="483" y="418.5">TUBB3</text></g>
<g class="n" id="n-USP2"><circle cx="344" cy="501"/><text x="344" y="505.5">USP2</text></g>
<g class="n up" id="n-ZC3H12A"><circle cx="859" cy="606"/><text x="859" y="610.5">ZC3H12A</text></g>
</g>
<g id="labels-on-top">
<use href="#t-AKAP8" class="lab"/><use href="#t-APP" class="lab"/><use href="#t-CANX" class="lab"/><use href="#t-CCND1" class="lab"/><use href="#t-CCT8" class="lab"/><use href="#t-CDK5RAP3" class="lab"/><use href="#t-CDKN2A" class="lab"/><use href="#t-DDX58" class="lab"/><use href="#t-ESR2" class="lab"/><use href="#t-HDAC6" class="lab"/>
</g>
<g id="title">
<text class="title" x="616.5" y="38">negative regulation of protein phosphorylation</text>
<text class="title" x="622.5" y="62">Involved Gene Interactions in Biogrid</text>
</g>
<g id="legend">
<circle cx="105" cy="112" r="6" fill="#00ff00"/><text class="leg" x="127" y="123">Upregulated Input Genes</text>
<circle cx="105" cy="142" r="6" fill="#ff0000"/><text class="leg" x="127" y="153">Downregulated Input Genes</text>
<circle cx="105" cy="172" r="6" fill="#999999"/><text class="leg" x="127" y="183">Other</text>
</g>
<g id="logo">
<polygon points="1147,12 1189,35 1189,84 1147,108 1105,84 1105,35" fill="#f4f6f9" stroke="#f7941d" stroke-width="4"/>
<line x1="1142" y1="48" x2="1161" y2="38"/><line x1="1142" y1="48" x2="1134" y2="40"/><line x1="1134" y1="40" x2="1140" y2="30"/><line x1="1140" y1="30" x2="1149" y2="35"/><line x1="1142" y1="48" x2="1140" y2="30"/><line x1="1142" y1="48" x2="1127" y2="49"/><line x1="1127" y1="49" x2="1135" y2="57"/><line x1="1142" y1="48" x2="1165" y2="54"/><line x1="1142" y1="48" x2="1156" y2="58"/><line x1="1142" y1="48" x2="1147" y2="57"/><line x1="1147" y1="57" x2="1138" y2="65"/><line x1="1147" y1="57" x2="1145" y2="64"/><line x1="1156" y1="58" x2="1165" y2="54"/>
<circle cx="1161" cy="38" r="7"/><circle cx="1142" cy="48" r="4.5"/><circle cx="1134" cy="40" r="3"/><circle cx="1140" cy="30" r="2"/><circle cx="1149" cy="35" r="1"/><circle cx="1127" cy="49" r="2.5"/><circle cx="1135" cy="57" r="1.5"/><circle cx="1165" cy="54" r="3.5"/><circle cx="1156" cy="58" r="3" style="fill:#e8501f"/><circle cx="1147" cy="57" r="2" style="fill:#e8501f"/><circle cx="1138" cy="65" r="3"/><circle cx="1145" cy="64" r="1" style="fill:#e8501f"/>
<text x="1118" y="84" font-family="Roboto,'Liberation Sans',sans-serif" font-size="12.5" font-weight="700" fill="#1b6a8c" letter-spacing="0.3">pathfind<tspan fill="#f7941d">R</tspan></text>
</g>
</svg>
